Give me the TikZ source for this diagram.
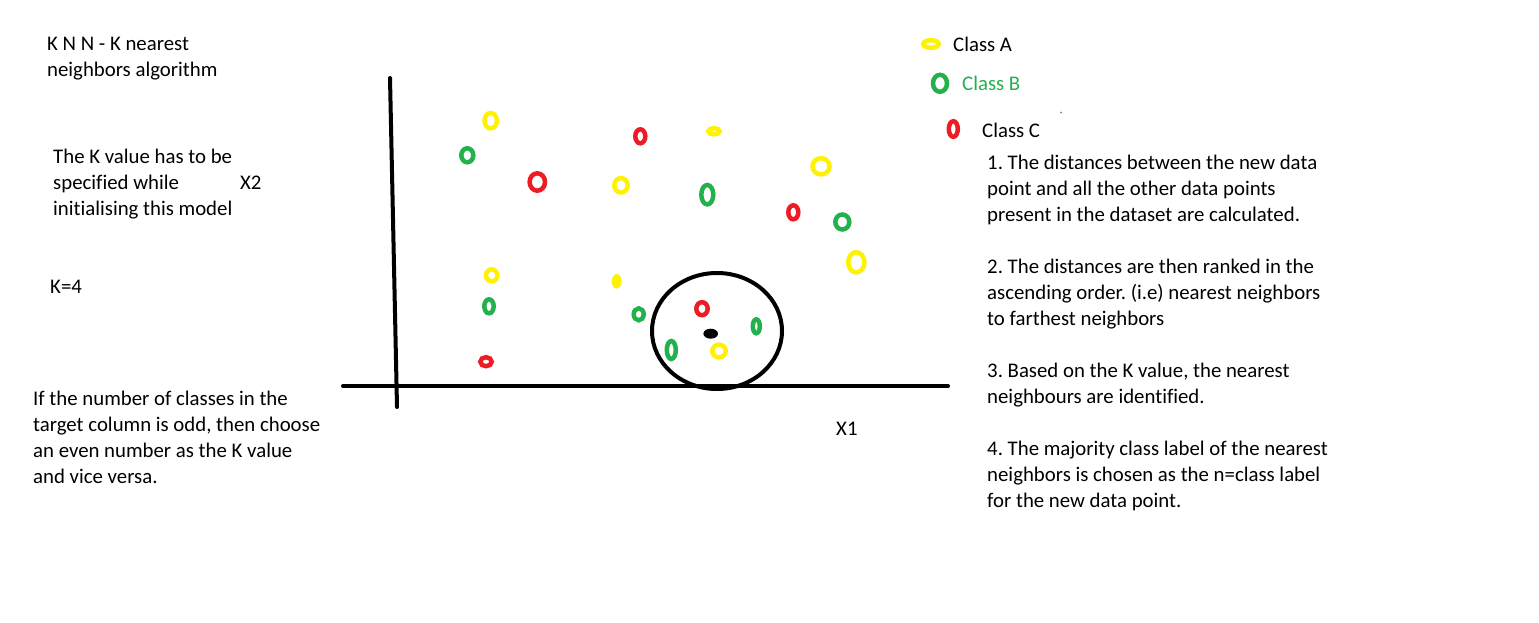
\documentclass[tikz,border=0pt]{standalone}
\usepackage{fontspec}
\setmainfont{Carlito}[Ligatures={NoCommon}]
\frenchspacing
\definecolor{paintyellow}{HTML}{FFF200}
\definecolor{paintgreen}{HTML}{22B14C}
\definecolor{paintred}{HTML}{ED1C24}
\tikzset{
  plaintext/.style={anchor=base west, inner sep=0pt, align=left, font=\fontsize{20.8}{26}\selectfont},
  ring/.style={line width=4.5pt},
}

\begin{document}
\begin{tikzpicture}[x=1pt,y=-1pt]
\useasboundingbox (0,0) rectangle (1539,623);

% Draw the axes
\draw[line width=4pt, line cap=round] (390,78) -- (397,407);
\draw[line width=4pt, line cap=round] (343,386) -- (948,386);

% Draw the neighbourhood round the new point
\draw[line width=4pt] (717,331) ellipse [x radius=65, y radius=58];
\fill (710.7,333.7) ellipse [x radius=7.3, y radius=5];

% Class A points
\foreach \px/\py/\rx/\ry in {490.7/120.7/6.2/7.7, 621/185.3/6.7/7.2, 714/131.3/5.7/3.1,
    821/166.3/8.5/8.1, 856.3/262.3/8.1/10.1, 491.7/275.3/5.7/6, 719/351/6.7/6.4, 931/44/7.7/3.8}
  \draw[paintyellow, ring] (\px,\py) ellipse [x radius=\rx, y radius=\ry];
\fill[paintyellow] (616.7,281.3) ellipse [x radius=5, y radius=7.3];

% Class B points
\foreach \px/\py/\rx/\ry in {467.3/155.3/6/7, 707.3/194.7/6/9.7, 842.3/222/7/7.5,
    489/306.3/4.7/7, 638.7/314.3/5/6, 756.3/326.3/3.5/7, 671.3/350/4.5/9, 940/83.3/7/8.5}
  \draw[paintgreen, ring] (\px,\py) ellipse [x radius=\rx, y radius=\ry];

% Class C points
\foreach \px/\py/\rx/\ry in {537.3/182/7.7/8.7, 640.3/136.3/5/7, 793.3/212.3/5/7,
    486/361.7/5.7/4.5, 702/308.7/5.7/6.5, 953.3/129/4.5/7.8}
  \draw[paintred, ring] (\px,\py) ellipse [x radius=\rx, y radius=\ry];

\fill[gray] (1061,112.5) circle (1);

% Texts on the left (base = last line)
\node[plaintext] (title) at (47,77) {K N N - K nearest\\neighbors algorithm};
\node[plaintext] (kspec) at (53,215) {The K value has to be\\specified while\\initialising this model};
\node[plaintext] (xtwo) at (240,189) {X2};
\node[plaintext] (kval) at (50,293) {K=4};
\node[plaintext] (oddrule) at (33,483) {If the number of classes in the\\target column is odd, then choose\\an even number as the K value\\and vice versa.};
\node[plaintext] (xone) at (836,435) {X1};

% Legend
\node[plaintext] (classa) at (953,52) {Class A};
\node[plaintext, paintgreen] (classb) at (962,91) {Class B};
\node[plaintext] (classc) at (982,138) {Class C};

% Steps of the algorithm
\node[plaintext] (stepone) at (987,221) {1. The distances between the new data\\point and all the other data points\\present in the dataset are calculated.};
\node[plaintext] (steptwo) at (987,325) {2. The distances are then ranked in the\\ascending order. (i.e) nearest neighbors\\to farthest neighbors};
\node[plaintext] (stepthree) at (987,403) {3. Based on the K value, the nearest\\neighbours are identified.};
\node[plaintext] (stepfour) at (987,507) {4. The majority class label of the nearest\\neighbors is chosen as the n=class label\\for the new data point.};

\end{tikzpicture}
\end{document}
